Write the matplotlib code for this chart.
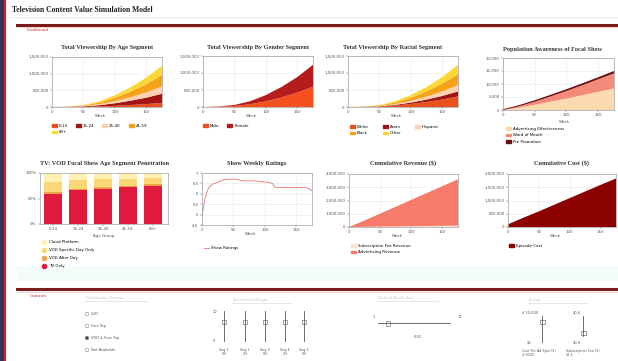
import numpy as np
import matplotlib
matplotlib.use("Agg")
import matplotlib.pyplot as plt
from matplotlib.patches import Rectangle, Circle, Patch
from matplotlib.lines import Line2D
from matplotlib.ticker import FuncFormatter

# Simulation output, sampled every 25 weeks
weeks = [0, 25, 50, 75, 100, 125, 150, 175]

# viewership by age segment (thousands)
age_labels = ["0-14", "15-24", "25-40", "41-59", "60+"]
age_0_14 = [0, 2, 6, 17, 35, 59, 88, 124]
age_15_24 = [0, 3, 13, 37, 77, 130, 194, 273]
age_25_40 = [0, 3, 11, 31, 63, 106, 158, 223]
age_41_59 = [0, 4, 17, 48, 98, 165, 246, 347]
age_60 = [0, 3, 13, 37, 77, 130, 194, 273]

# viewership by gender (thousands)
gender_labels = ["Male", "Female"]
male = [0, 7, 29, 82, 168, 283, 422, 595]
female = [0, 8, 31, 88, 182, 307, 458, 645]

# viewership by race (thousands)
race_labels = ["White", "Asian", "Hispanic", "Black", "Other"]
white = [0, 4, 15, 42, 88, 148, 220, 310]
asian = [0, 2, 7, 20, 42, 71, 106, 149]
hispanic = [0, 2, 9, 26, 52, 88, 132, 186]
black = [0, 4, 16, 44, 91, 153, 229, 322]
other = [0, 3, 13, 38, 77, 130, 193, 273]

# awareness of the focal show (people)
aware_labels = ["Advertising Effectiveness", "Word of Mouth", "Pre Promotion"]
adv_eff = [0, 900, 2000, 3200, 4400, 5700, 7000, 8300]
word_of_mouth = [0, 500, 1200, 2000, 2900, 3800, 4800, 5800]
pre_promo = [300, 450, 550, 650, 700, 750, 800, 900]

# penetration by age group (%)
groups = ["0-14", "15-24", "25-40", "41-59", "60+"]
tv_only = [58, 66, 69, 72, 75]
vod_after = [4, 3, 3, 3, 3]
vod_day = [20, 17, 16, 14, 13]
cloud = [18, 14, 12, 11, 9]

# weekly ratings
rating_weeks = [0, 2, 5, 8, 12, 18, 25, 35, 45, 55, 65, 75, 85, 95, 105,
                112, 116, 120, 130, 140, 150, 160, 165, 170, 175]
ratings = [4.9, 5.3, 5.8, 6.1, 6.35, 6.48, 6.55, 6.68, 6.7, 6.7, 6.62, 6.62,
           6.62, 6.58, 6.55, 6.5, 6.32, 6.3, 6.3, 6.3, 6.3, 6.3, 6.3, 6.25, 6.15]

# cumulative revenue and cost (thousands of $)
sub_revenue = [0, 15, 30, 45, 60, 75, 90, 105]
ad_revenue = [0, 480, 980, 1480, 1990, 2490, 2990, 3500]
episode_cost = [100, 350, 590, 840, 1090, 1340, 1590, 1830]

W, H = 618, 361
fig = plt.figure(figsize=(W / 100, H / 100), dpi=100)
fig.patch.set_facecolor("white")

SERIF = "Liberation Serif"
TXT = 2.9


def box(x0, y0, x1, y1):
    return [x0 / W, 1 - y1 / H, (x1 - x0) / W, (y1 - y0) / H]


def fx(x):
    return x / W


def fy(y):
    return 1 - y / H


# page chrome drawn in pixel coordinates
bg = fig.add_axes([0, 0, 1, 1])
bg.set_xlim(0, W)
bg.set_ylim(H, 0)
bg.axis("off")
bg.add_patch(Rectangle((0, 0), 3, H, color="#3b2e58"))
bg.plot([4.5, 4.5], [0, H], color="#c0282d", lw=1.6)
bg.text(12, 10, "Television Content Value Simulation Model", fontsize=5.5,
        family=SERIF, color="#222222", va="center", weight="bold")
bg.plot([8, W], [17, 17], color="#e6e6e6", lw=0.5)
bg.plot([17, W], [24.5, 24.5], color="#7a1c1c", lw=2.2)
bg.plot([17, W], [26.8, 26.8], color="#f3c9c9", lw=0.6)
bg.text(27, 30, "Dashboard", fontsize=3.6, family=SERIF, color="#c0282d", va="center")
bg.add_patch(Rectangle((17, 266), W - 17, 15, color="#f3fbfb", lw=0))
bg.plot([17, W], [289, 289], color="#7a1c1c", lw=2.2)
bg.plot([17, W], [291.5, 291.5], color="#f3c9c9", lw=0.6)
bg.text(30, 296, "Controls", fontsize=3.6, family=SERIF, color="#c0282d", va="center")


def style(ax, xlim=(0, 175)):
    ax.set_facecolor("white")
    for s in ax.spines.values():
        s.set_color("#a0a0a0")
        s.set_linewidth(0.5)
    ax.tick_params(labelsize=TXT, length=1.5, width=0.3, pad=1, colors="#555555")
    ax.grid(True, color="#e8e8e8", lw=0.4)
    ax.set_axisbelow(True)
    if xlim is not None:
        ax.set_xlim(*xlim)
        ax.set_xticks([0, 50, 100, 150])
        ax.set_xlabel("Week", fontsize=TXT, color="#555555")
        ax.xaxis.set_label_coords(0.44, -0.13)


def title(x, y, s):
    fig.text(fx(x), fy(y), s, fontsize=4.6, family=SERIF, weight="bold",
             color="#333333", ha="center", va="center")


def legend(ax, handles, labels, x, y, ncol=1, colsp=2.0, rowsp=0.6):
    ax.legend(handles, labels, loc="upper left", bbox_to_anchor=(fx(x), fy(y)),
              bbox_transform=fig.transFigure, ncol=ncol, frameon=False,
              fontsize=TXT, handlelength=1.2, handleheight=0.7, handletextpad=0.5,
              columnspacing=colsp, labelspacing=rowsp, borderpad=0, borderaxespad=0)


def row_major(items, order):
    # matplotlib fills legend columns first; reorder so entries read across rows
    return [items[i] for i in order]


comma = FuncFormatter(lambda v, p: f"{v:,.0f}")
wk = np.array(weeks)

age_colors = ["#e8501c", "#a31515", "#fdd0b0", "#f7a21b", "#fdd835"]

# Total viewership by age segment
ax1 = fig.add_axes(box(52, 57, 162, 107))
age_series = [age_0_14, age_15_24, age_25_40, age_41_59, age_60]
ax1.stackplot(wk, *[np.array(s) * 1000 for s in age_series], colors=age_colors, lw=0)
style(ax1)
ax1.set_ylim(0, 1500000)
ax1.set_yticks([0, 500000, 1000000, 1500000])
ax1.yaxis.set_major_formatter(comma)
title(107, 48, "Total Viewership By Age Segment")
order5x4 = [0, 4, 1, 2, 3]
legend(ax1, row_major([Patch(color=c) for c in age_colors], order5x4),
       row_major(age_labels, order5x4), 52, 124, ncol=4)

# Total viewership by gender
ax2 = fig.add_axes(box(203, 56, 313, 107))
gender_colors = ["#f4511e", "#b71c1c"]
ax2.stackplot(wk, np.array(male) * 1000, np.array(female) * 1000,
              colors=gender_colors, lw=0)
style(ax2)
ax2.set_ylim(0, 1500000)
ax2.set_yticks([0, 500000, 1000000, 1500000])
ax2.yaxis.set_major_formatter(comma)
title(258, 48, "Total Viewership By Gender Segment")
legend(ax2, [Patch(color=c) for c in gender_colors], gender_labels, 203, 124, ncol=2)

# Total viewership by race
ax3 = fig.add_axes(box(348, 56, 458, 107))
race_series = [white, asian, hispanic, black, other]
ax3.stackplot(wk, *[np.array(s) * 1000 for s in race_series], colors=age_colors, lw=0)
style(ax3)
ax3.set_ylim(0, 1500000)
ax3.set_yticks([0, 500000, 1000000, 1500000])
ax3.yaxis.set_major_formatter(comma)
title(393, 48, "Total Viewership By Racial Segment")
order5x3 = [0, 3, 1, 4, 2]
legend(ax3, row_major([Patch(color=c) for c in age_colors], order5x3),
       row_major(race_labels, order5x3), 350, 125, ncol=3, colsp=3.5)

# Awareness of focal show
ax4 = fig.add_axes(box(503, 58, 614, 110))
aware_colors = ["#fdd9b0", "#f48a7a", "#6b0f0f"]
ax4.stackplot(wk, adv_eff, word_of_mouth, pre_promo, colors=aware_colors, lw=0)
style(ax4)
ax4.set_ylim(0, 20000)
ax4.set_yticks([0, 5000, 10000, 15000, 20000])
ax4.yaxis.set_major_formatter(comma)
ax4.xaxis.set_label_coords(0.55, -0.2)
title(553, 49, "Population Awareness of Focal Show")
legend(ax4, [Patch(color=c) for c in aware_colors], aware_labels, 506, 127)

# Penetration by age group
ax5 = fig.add_axes(box(40, 173, 168, 224))
pen_colors = ["#e0193f", "#f5a04a", "#fcd775", "#fff0b3"]
xpos = np.arange(len(groups))
bottom = np.zeros(len(groups))
for vals, c in zip([tv_only, vod_after, vod_day, cloud], pen_colors):
    ax5.bar(xpos, vals, 0.72, bottom=bottom, color=c, lw=0)
    bottom += np.array(vals)
style(ax5, xlim=None)
ax5.grid(False)
ax5.set_xlim(-0.52, 4.6)
ax5.set_ylim(0, 100)
ax5.set_xticks(xpos)
ax5.set_xticklabels(groups)
ax5.set_yticks([0, 50, 100])
ax5.set_yticklabels(["0%", "50%", "100%"])
ax5.set_xlabel("Age Group", fontsize=TXT, color="#555555", labelpad=2)
title(104, 164, "TV: VOD Focal Show Age Segment Penetration")
pen_handles = [Line2D([], [], marker="o", ls="none", color=c, markersize=3)
               for c in pen_colors[::-1]]
legend(ax5, pen_handles, ["Cloud Platform", "VOD Specific Day Only",
                          "VOD After Day", "TV Only"], 42, 240, rowsp=1.0)

# Weekly ratings
ax6 = fig.add_axes(box(202, 173, 312, 225))
ax6.plot(rating_weeks, ratings, color="#e57373", lw=0.6)
style(ax6)
ax6.set_ylim(4.5, 7)
ax6.set_yticks([4.5, 5, 5.5, 6, 6.5, 7])
ax6.set_yticklabels(["4.5", "5", "5.5", "6", "6.5", "7"])
title(257, 163, "Show Weekly Ratings")
legend(ax6, [Line2D([], [], color="#e57373", lw=0.6)], ["Show Ratings"], 204, 246)

# Cumulative revenue
ax7 = fig.add_axes(box(349, 174, 458, 227))
rev_colors = ["#fde0d0", "#f67b6b"]
ax7.stackplot(wk, np.array(sub_revenue) * 1000, np.array(ad_revenue) * 1000,
              colors=rev_colors, lw=0)
style(ax7)
ax7.set_ylim(0, 4000000)
ax7.set_yticks([0, 1000000, 2000000, 3000000, 4000000])
ax7.yaxis.set_major_formatter(comma)
title(403, 163, "Cumulative Revenue ($)")
legend(ax7, [Patch(color=c) for c in rev_colors],
       ["Subscription Fee Revenue", "Advertising Revenue"], 351, 244)

# Cumulative cost
ax8 = fig.add_axes(box(508, 174, 616, 227))
ax8.stackplot(wk, np.array(episode_cost) * 1000, colors=["#8b0000"], lw=0)
style(ax8)
ax8.set_ylim(0, 2000000)
ax8.set_yticks([0, 500000, 1000000, 1500000, 2000000])
ax8.yaxis.set_major_formatter(comma)
title(562, 163, "Cumulative Cost ($)")
legend(ax8, [Patch(color="#8b0000")], ["Episode Cost"], 509, 244)

# ---- controls ----
ctl = dict(fontsize=2.6, color="#555555", va="center")
bg.text(86, 298, "Distribution Channel", fontsize=2.6, color="#c8c8c8", va="center")
bg.plot([85, 147], [300.5, 300.5], color="#dddddd", lw=0.5)
radio = ["VOD", "Free Tap", "VOD & Free Tap", "Not Available"]
for i, (lab, ry) in enumerate(zip(radio, [314, 326, 338, 350])):
    bg.add_patch(Circle((87, ry), 1.8, fc="white", ec="#888888", lw=0.4))
    if i == 2:
        bg.add_patch(Circle((87, ry), 0.9, color="#444444"))
    bg.text(91, ry, lab, **ctl)

bg.text(233, 300, "Advertising Weight", fontsize=2.6, color="#c8c8c8", va="center")
bg.plot([232, 292], [302.5, 302.5], color="#dddddd", lw=0.5)
bg.text(213, 312, "10", **ctl)
bg.text(213, 341, "0", **ctl)
for i, sx in enumerate([224, 245, 265, 285, 304]):
    bg.plot([sx, sx], [311, 341], color="#555555", lw=0.6)
    bg.add_patch(Rectangle((sx - 2, 320), 4, 3.5, fc="white", ec="#555555", lw=0.4))
    bg.text(sx, 352, f"Seg {i + 1}\n0.5", fontsize=2.4, color="#555555",
            ha="center", va="center", linespacing=0.9)

bg.text(378, 298, "Word of Mouth Rate", fontsize=2.6, color="#c8c8c8", va="center")
bg.plot([377, 438], [300.5, 300.5], color="#dddddd", lw=0.5)
bg.plot([378, 450], [323, 323], color="#555555", lw=0.6)
bg.add_patch(Rectangle((386, 320.5), 4, 5, fc="white", ec="#555555", lw=0.4))
bg.text(373, 317, "1", **ctl)
bg.text(458, 317, "10", **ctl)
bg.text(414, 337, "0.02", **ctl)

bg.text(529, 300, "Pricing", fontsize=2.6, color="#c8c8c8", va="center")
bg.plot([528, 588], [302.5, 302.5], color="#dddddd", lw=0.5)
bg.plot([542, 542], [316, 342], color="#555555", lw=0.6)
bg.add_patch(Rectangle((539.5, 320), 5, 4, fc="white", ec="#555555", lw=0.4))
bg.text(522, 313, "$ 10,000", **ctl)
bg.text(527, 342, "$0", **ctl)
bg.text(522, 353, "Cost Per Ad Spot ($)\n$ 5000", fontsize=2.4, color="#555555",
        va="center", linespacing=0.9)
bg.plot([583, 583], [316, 336], color="#555555", lw=0.6)
bg.add_patch(Rectangle((580.5, 331), 5, 4, fc="white", ec="#555555", lw=0.4))
bg.text(573, 313, "$0.4", **ctl)
bg.text(573, 342, "$0.0", **ctl)
bg.text(566, 353, "Subscription Fee ($)\n$0.1", fontsize=2.4, color="#555555",
        va="center", linespacing=0.9)

fig.savefig("out.png", dpi=100)
